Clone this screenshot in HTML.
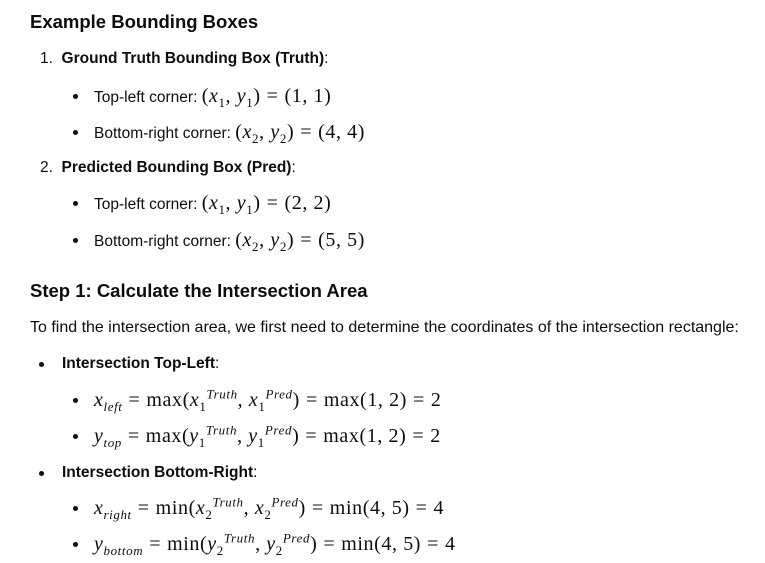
<!DOCTYPE html>
<html><head><meta charset="utf-8"><style>
body{margin:0;background:#fff;width:765px;height:563px;position:relative;overflow:hidden;font-family:"Liberation Sans",sans-serif;color:#0d0d0d}
.l{position:absolute;height:24px;line-height:24px;white-space:nowrap;font-size:15.5px}
h{font-weight:bold}
.t{font-size:18.5px;font-weight:bold}
.d{position:absolute;width:5px;height:5px;border-radius:50%;background:#0d0d0d}
m{font-family:"Liberation Serif",serif;font-size:20px;letter-spacing:0.6px}
m b{font-weight:normal;padding:0 6px}
i{font-family:"Liberation Serif",serif}
sub,sup{font-size:13px;line-height:0}
</style></head><body>
<div class="l t" style="left:30px;top:10px">Example Bounding Boxes</div>
<div class="l" style="left:40px;top:47px">1.&nbsp; <h>Ground Truth Bounding Box (Truth)</h>:</div>
<div class="d" style="left:73px;top:94px"></div>
<div class="l" style="left:94px;top:84px">Top-left corner: <m>(<i>x</i><sub>1</sub>, <i>y</i><sub>1</sub>)<b>=</b>(1, 1)</m></div>
<div class="d" style="left:73px;top:130px"></div>
<div class="l" style="left:94px;top:120px">Bottom-right corner: <m>(<i>x</i><sub>2</sub>, <i>y</i><sub>2</sub>)<b>=</b>(4, 4)</m></div>
<div class="l" style="left:40px;top:156px">2.&nbsp; <h>Predicted Bounding Box (Pred)</h>:</div>
<div class="d" style="left:73px;top:201px"></div>
<div class="l" style="left:94px;top:191px">Top-left corner: <m>(<i>x</i><sub>1</sub>, <i>y</i><sub>1</sub>)<b>=</b>(2, 2)</m></div>
<div class="d" style="left:73px;top:238px"></div>
<div class="l" style="left:94px;top:228px">Bottom-right corner: <m>(<i>x</i><sub>2</sub>, <i>y</i><sub>2</sub>)<b>=</b>(5, 5)</m></div>
<div class="l t" style="left:30px;top:279px">Step 1: Calculate the Intersection Area</div>
<div class="l" style="left:30px;top:316px;font-size:16px">To find the intersection area, we first need to determine the coordinates of the intersection rectangle:</div>
<div class="d" style="left:39px;top:362px"></div>
<div class="l" style="left:62px;top:352px"><h>Intersection Top-Left</h>:</div>
<div class="d" style="left:73px;top:398px"></div>
<div class="l" style="left:94px;top:388px"><m><i>x</i><sub><i>left</i></sub><b>=</b>max(<i>x</i><sub>1</sub><sup><i>Truth</i></sup>, <i>x</i><sub>1</sub><sup><i>Pred</i></sup>)<b>=</b>max(1, 2)<b>=</b>2</m></div>
<div class="d" style="left:73px;top:434px"></div>
<div class="l" style="left:94px;top:424px"><m><i>y</i><sub><i>top</i></sub><b>=</b>max(<i>y</i><sub>1</sub><sup><i>Truth</i></sup>, <i>y</i><sub>1</sub><sup><i>Pred</i></sup>)<b>=</b>max(1, 2)<b>=</b>2</m></div>
<div class="d" style="left:39px;top:471px"></div>
<div class="l" style="left:62px;top:461px"><h>Intersection Bottom-Right</h>:</div>
<div class="d" style="left:73px;top:506px"></div>
<div class="l" style="left:94px;top:496px"><m><i>x</i><sub><i>right</i></sub><b>=</b>min(<i>x</i><sub>2</sub><sup><i>Truth</i></sup>, <i>x</i><sub>2</sub><sup><i>Pred</i></sup>)<b>=</b>min(4, 5)<b>=</b>4</m></div>
<div class="d" style="left:73px;top:542px"></div>
<div class="l" style="left:94px;top:532px"><m><i>y</i><sub><i>bottom</i></sub><b>=</b>min(<i>y</i><sub>2</sub><sup><i>Truth</i></sup>, <i>y</i><sub>2</sub><sup><i>Pred</i></sup>)<b>=</b>min(4, 5)<b>=</b>4</m></div>
</body></html>
